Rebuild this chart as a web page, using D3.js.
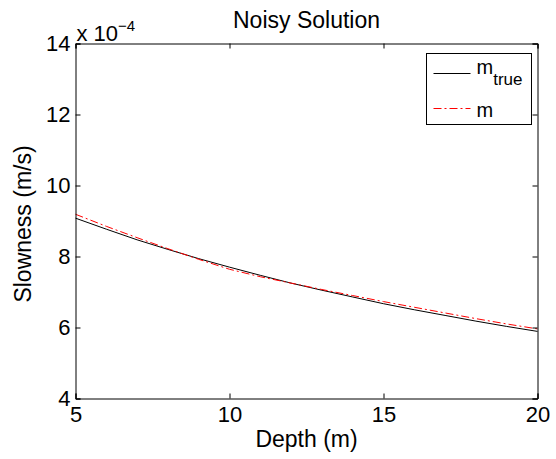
<!DOCTYPE html>
<html>
<head>
<meta charset="utf-8">
<script src="https://cdn.jsdelivr.net/npm/d3@7"></script>
<style>
  body { margin: 0; background: #fff; }
  svg { font-family: "Liberation Sans", Arial, sans-serif; }
</style>
</head>
<body>
<svg width="556" height="459"></svg>
<script>
// depth samples (m)
const depth = [5, 6, 7, 8, 9, 10, 11, 12, 13, 14, 15, 16, 17, 18, 19, 20]
// true slowness, x 1e-4 s/m
const mTrue = [9.08, 8.77, 8.47, 8.20, 7.94, 7.70, 7.47, 7.25, 7.05, 6.86, 6.67, 6.50, 6.34, 6.18, 6.03, 5.89]
// recovered model from noisy data
const mNoisy = [9.19, 8.85, 8.53, 8.22, 7.92, 7.64, 7.43, 7.25, 7.07, 6.90, 6.73, 6.57, 6.41, 6.25, 6.10, 5.96]
const xTicks = [5, 10, 15, 20]
const yTicks = [4, 6, 8, 10, 12, 14]

const margin = { left: 75.5, right: 537.5, top: 43.5, bottom: 398.5 }
const svg = d3.select('svg')

const x = d3.scaleLinear().domain([5, 20]).range([margin.left, margin.right])
const y = d3.scaleLinear().domain([4, 14]).range([margin.bottom, margin.top])

const tickLen = 5
const font = '"Liberation Sans", Arial, sans-serif'

// lines first, box on top
const line = d3.line()
	.x((d, i) => x(depth[i]))
	.y(d => y(d))

svg.append('path')
	.datum(mTrue)
	.attr('d', line)
	.attr('fill', 'none')
	.attr('stroke', '#000')
	.attr('stroke-width', 1)

svg.append('path')
	.datum(mNoisy)
	.attr('d', line)
	.attr('fill', 'none')
	.attr('stroke', '#ff0000')
	.attr('stroke-width', 1)
	.attr('stroke-dasharray', '8,3,2,3')

// axes: bottom/left with labels, top/right plain, all ticks inward
const axB = svg.append('g').attr('transform', `translate(0,${margin.bottom})`)
	.call(d3.axisBottom(x).tickValues(xTicks).tickSize(-tickLen).tickPadding(8))
const axT = svg.append('g').attr('transform', `translate(0,${margin.top})`)
	.call(d3.axisTop(x).tickValues(xTicks).tickSize(-tickLen).tickFormat(''))
const axL = svg.append('g').attr('transform', `translate(${margin.left},0)`)
	.call(d3.axisLeft(y).tickValues(yTicks).tickSize(-tickLen).tickPadding(5))
const axR = svg.append('g').attr('transform', `translate(${margin.right},0)`)
	.call(d3.axisRight(y).tickValues(yTicks).tickSize(-tickLen).tickFormat(''))

;[axB, axT, axL, axR].forEach(g => {
	g.select('.domain').attr('stroke', '#000').attr('stroke-width', 1)
	g.selectAll('.tick line').attr('stroke', '#000')
	g.selectAll('text')
		.attr('fill', '#000')
		.style('font-size', '22px')
		.style('font-family', font)
})

// exponent label
const ex = svg.append('text')
	.attr('x', margin.left + 1)
	.attr('y', 41)
	.style('font-size', '22px')
ex.append('tspan').text('x 10')
ex.append('tspan').attr('dy', -10).style('font-size', '15px').text('\u22124')

// title
svg.append('text')
	.attr('x', (margin.left + margin.right) / 2)
	.attr('y', 28)
	.attr('text-anchor', 'middle')
	.style('font-size', '23px')
	.text('Noisy Solution')

// axis labels
svg.append('text')
	.attr('x', (margin.left + margin.right) / 2)
	.attr('y', 447)
	.attr('text-anchor', 'middle')
	.style('font-size', '23px')
	.text('Depth (m)')

svg.append('text')
	.attr('transform', `translate(31,${(margin.top + margin.bottom) / 2 + 3}) rotate(-90)`)
	.attr('text-anchor', 'middle')
	.style('font-size', '23px')
	.text('Slowness (m/s)')

// legend
const lg = svg.append('g').attr('transform', 'translate(426.5,53.5)')
lg.append('rect')
	.attr('width', 105).attr('height', 71)
	.attr('fill', '#fff').attr('stroke', '#000').attr('stroke-width', 1)

const items = [
	{ name: 'm', sub: 'true', color: '#000', dash: null, yy: 20, base: 20 },
	{ name: 'm', sub: null, color: '#ff0000', dash: '8,3,2,3', yy: 55, base: 63 }
]
items.forEach(it => {
	lg.append('line')
		.attr('x1', 7).attr('x2', 44)
		.attr('y1', it.yy).attr('y2', it.yy)
		.attr('stroke', it.color)
		.attr('stroke-width', 1)
		.attr('stroke-dasharray', it.dash)
	const t = lg.append('text')
		.attr('x', 50).attr('y', it.base)
		.style('font-size', '20px')
	t.append('tspan').text(it.name)
	if (it.sub) t.append('tspan').attr('dy', 11).style('font-size', '17px').text(it.sub)
})
</script>
</body>
</html>
